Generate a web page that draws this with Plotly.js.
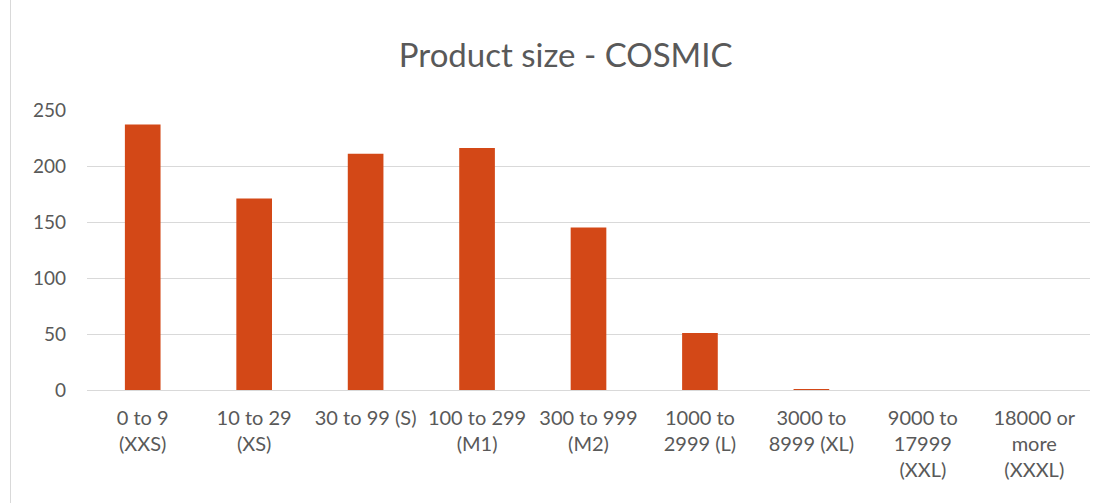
<!DOCTYPE html>
<html>
<head>
<meta charset="utf-8">
<script src="https://cdn.plot.ly/plotly-3.0.1.min.js"></script>
<style>
html,body{margin:0;padding:0;background:#fff;}
#wrap{position:absolute;left:10px;top:0;width:1095px;height:503px;border-left:1px solid #d9d9d9;}
#chart{width:1094px;height:503px;}
</style>
</head>
<body>
<div id="wrap"><div id="chart"></div></div>
<script>
const categories = ["0 to 9<br>(XXS)", "10 to 29<br>(XS)", "30 to 99 (S)", "100 to 299<br>(M1)", "300 to 999<br>(M2)", "1000 to<br>2999 (L)", "3000 to<br>8999 (XL)", "9000 to<br>17999<br>(XXL)", "18000 or<br>more<br>(XXXL)"];
const values = [237, 171, 211, 216, 145, 51, 1, 0, 0];
const yTicks = [0, 50, 100, 150, 200, 250];

const font = "Lato, 'Open Sans', 'Noto Sans', sans-serif";
const trace = {
  type: 'bar',
  x: categories.map((c, i) => i),
  y: values,
  marker: {color: '#D34817'},
  hoverinfo: 'none'
};
const layout = {
  width: 1094, height: 503,
  margin: {l: 76, r: 15, t: 110, b: 113},
  paper_bgcolor: '#fff', plot_bgcolor: '#fff',
  bargap: 0.68,
  showlegend: false,
  title: {text: 'Product size - COSMIC', x: 0.507, xref: 'container', y: 0.89, yref: 'container', yanchor: 'middle',
          font: {family: font, size: 33, color: '#595959'}},
  xaxis: {
    tickmode: 'array', tickvals: categories.map((c, i) => i), ticktext: categories,
    range: [-0.5, 8.5], showgrid: false, zeroline: false,
    showline: true, linecolor: '#d9d9d9', linewidth: 1,
    ticks: '', tickangle: 0, ticklabelstandoff: 10,
    tickfont: {family: font, size: 20, color: '#595959'}
  },
  yaxis: {
    range: [0, 250], tickmode: 'array', tickvals: yTicks,
    showgrid: true, gridcolor: '#d9d9d9', gridwidth: 1,
    zeroline: false, showline: false, ticks: '', ticklabelstandoff: 20,
    tickfont: {family: font, size: 19, color: '#595959'}
  }
};
Plotly.newPlot('chart', [trace], layout, {displayModeBar: false, staticPlot: true});
</script>
</body>
</html>
